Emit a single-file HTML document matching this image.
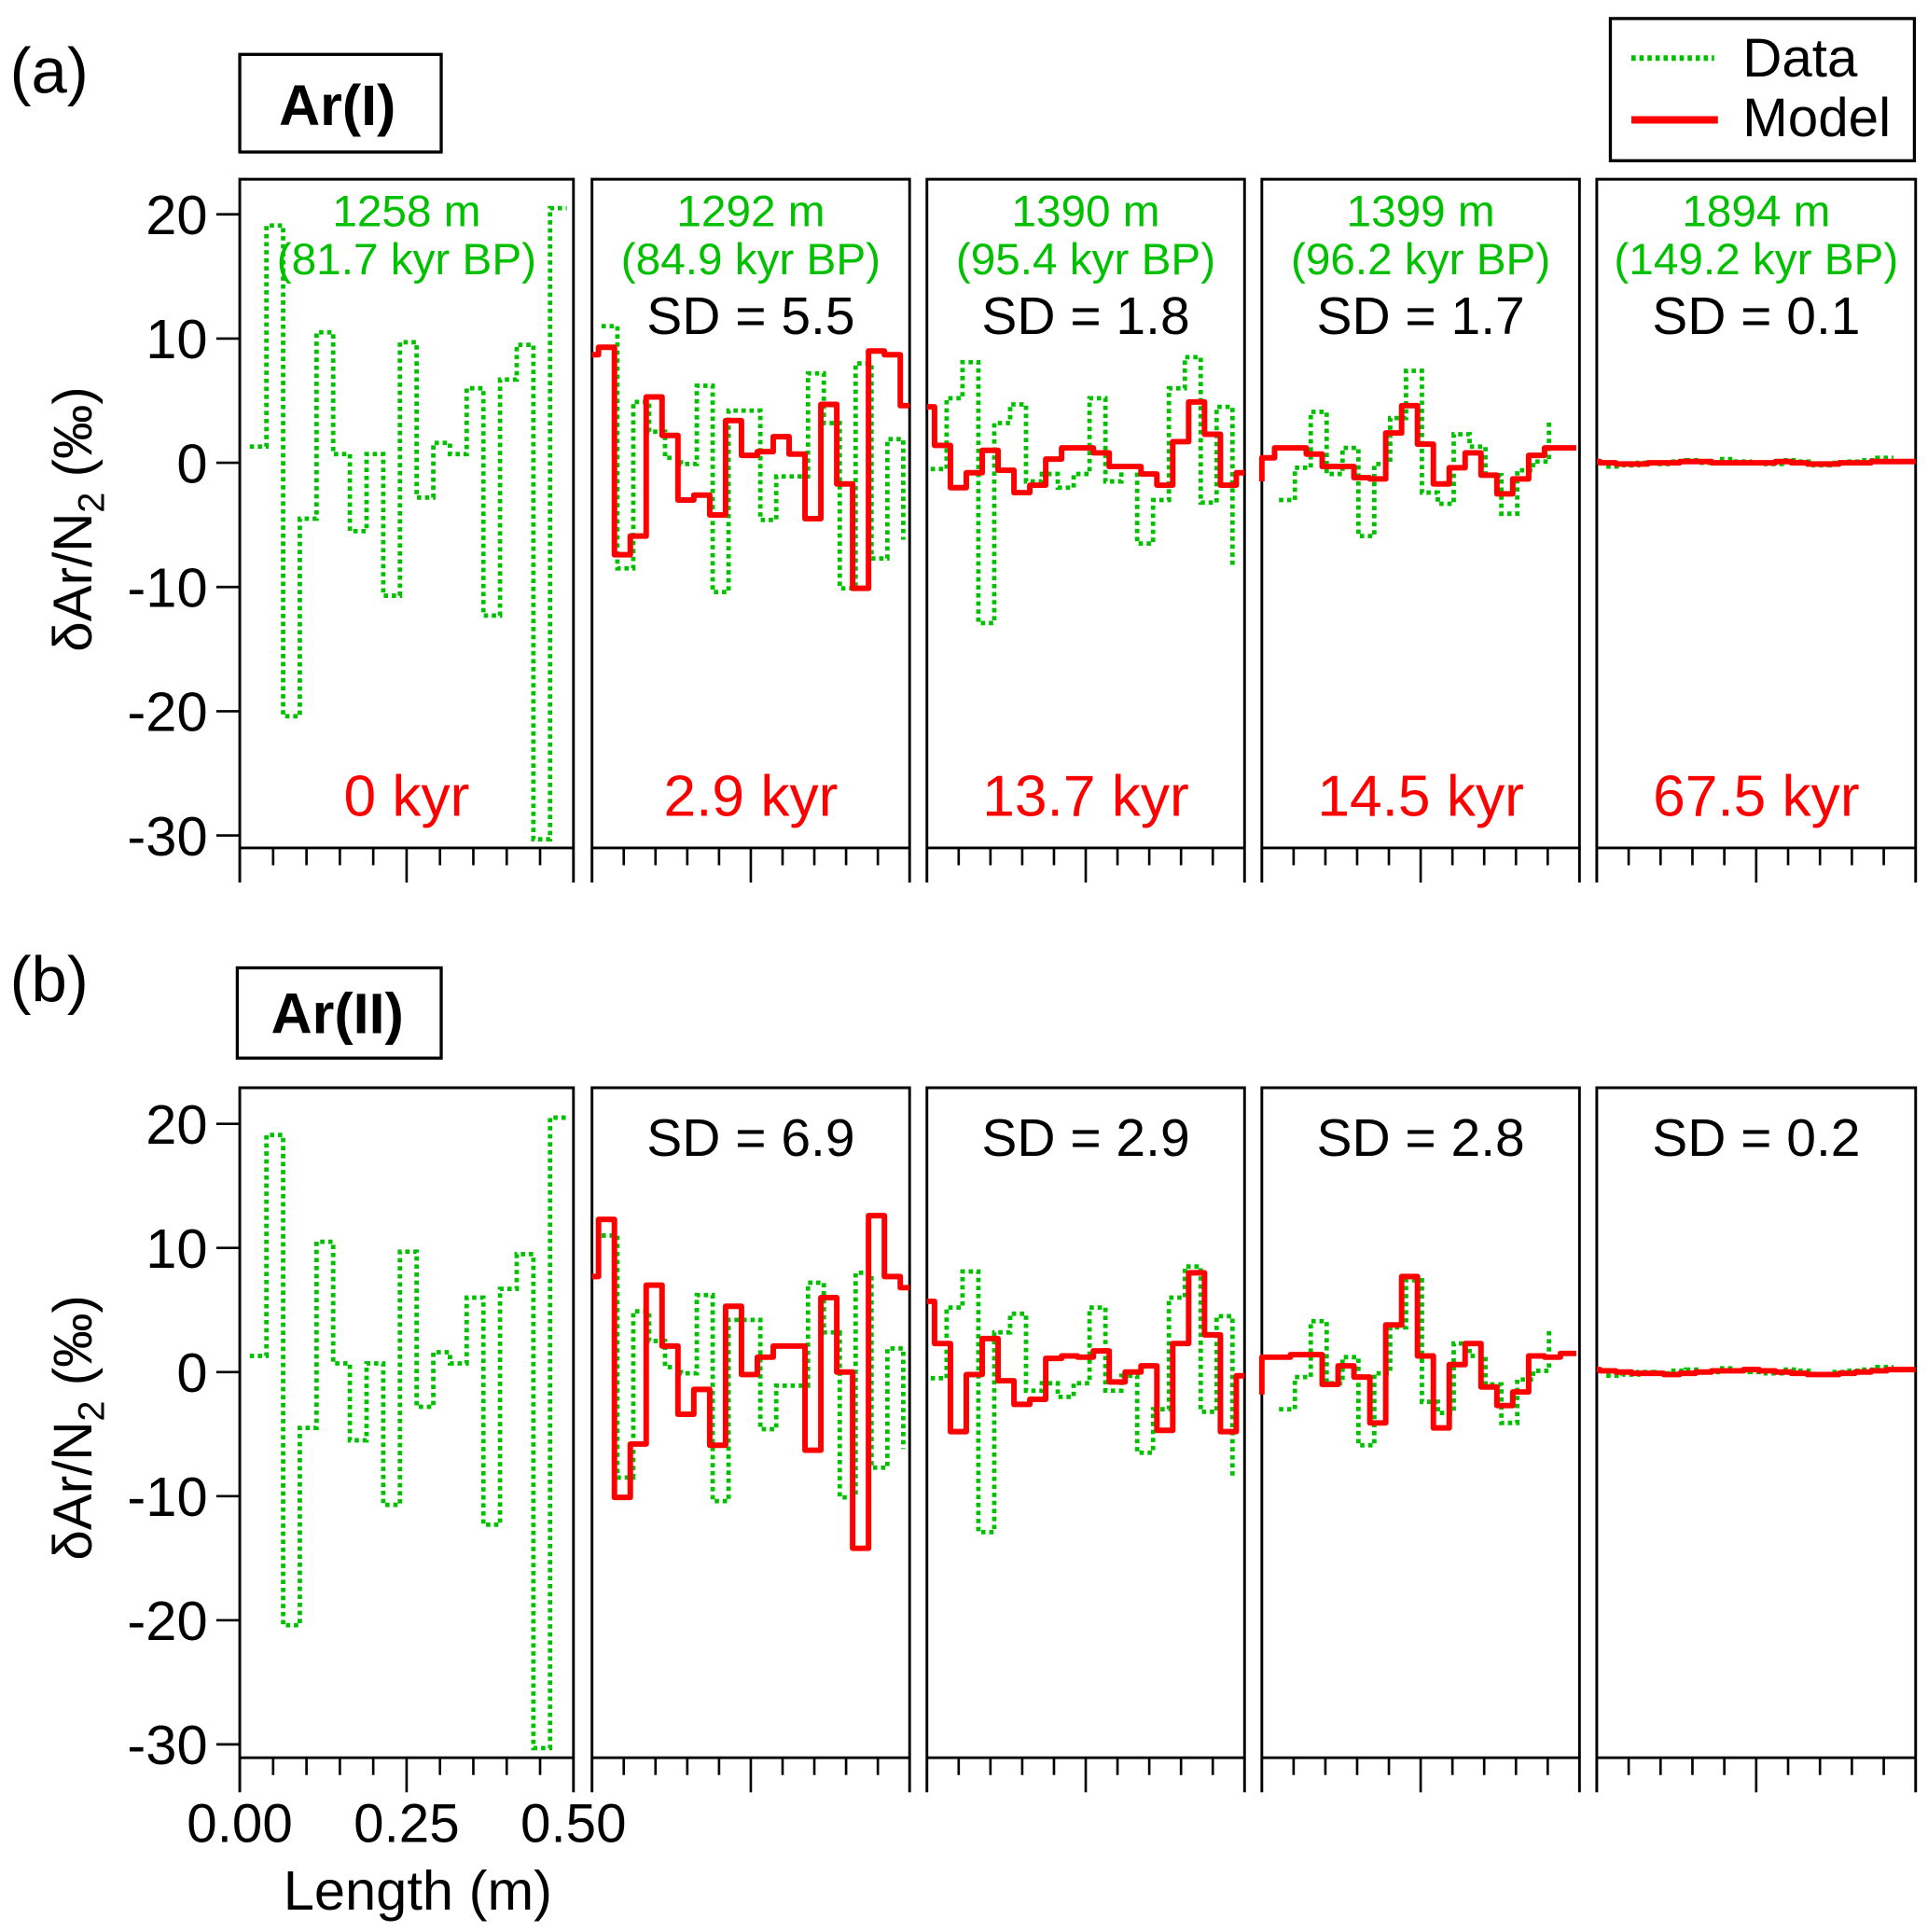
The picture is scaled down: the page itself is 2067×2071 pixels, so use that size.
<!DOCTYPE html>
<html><head><meta charset="utf-8"><style>
html,body{margin:0;padding:0;background:#fff;}
svg{display:block;font-family:"Liberation Sans",Arial,sans-serif;}
</style></head><body>
<svg id="chart" width="2067" height="2071" viewBox="0 0 1560 1563" preserveAspectRatio="none" xmlns="http://www.w3.org/2000/svg">
<g id="static">
  <text x="8" y="75" font-size="52">(a)</text>
  <text x="8" y="810" font-size="52">(b)</text>
  <rect x="194" y="44" width="163" height="79" fill="none" stroke="#000" stroke-width="2.5"/>
  <text x="273" y="101" font-size="46" font-weight="bold" text-anchor="middle">Ar(I)</text>
  <rect x="192" y="783" width="165" height="73" fill="none" stroke="#000" stroke-width="2.5"/>
  <text x="273" y="836" font-size="46" font-weight="bold" text-anchor="middle">Ar(II)</text>
  <g>
    <rect x="1303" y="15" width="246" height="115" fill="none" stroke="#000" stroke-width="2.5"/>
    <line x1="1320" y1="47" x2="1387" y2="47" stroke="#00c000" stroke-width="4.5" stroke-dasharray="3.5 3"/>
    <text x="1410" y="62" font-size="44">Data</text>
    <line x1="1320" y1="97" x2="1390" y2="97" stroke="#ff0000" stroke-width="6"/>
    <text x="1410" y="110" font-size="44">Model</text>
  </g>
  <text transform="translate(74,420) rotate(-90)" font-size="44" text-anchor="middle">δAr/N<tspan font-size="30" dy="10">2</tspan><tspan dy="-10"> (‰)</tspan></text>
  <text transform="translate(74,1155) rotate(-90)" font-size="44" text-anchor="middle">δAr/N<tspan font-size="30" dy="10">2</tspan><tspan dy="-10"> (‰)</tspan></text>
  <text x="194" y="1490" font-size="44" text-anchor="middle">0.00</text>
  <text x="329" y="1490" font-size="44" text-anchor="middle">0.25</text>
  <text x="464" y="1490" font-size="44" text-anchor="middle">0.50</text>
  <text x="338" y="1545" font-size="45" text-anchor="middle">Length (m)</text>
</g>
<g id="plots"></g>
</svg>
<script>
// ---- data ----
const yTicks = [20, 10, 0, -10, -20, -30];
const depthLabels = ["1258 m", "1292 m", "1390 m", "1399 m", "1894 m"];
const ageLabels = ["(81.7 kyr BP)", "(84.9 kyr BP)", "(95.4 kyr BP)", "(96.2 kyr BP)", "(149.2 kyr BP)"];
const kyrLabels = ["0 kyr", "2.9 kyr", "13.7 kyr", "14.5 kyr", "67.5 kyr"];
const sdA = [null, "5.5", "1.8", "1.7", "0.1"];
const sdB = [null, "6.9", "2.9", "2.8", "0.2"];
const dataStart = [0.015, 0.015, 0.006, 0.027, 0.015];
const data1 = [1.3, 19.1, -20.4, -4.5, 10.5, 0.7, -5.5, 0.7, -10.7, 9.7, -2.8, 1.6, 0.7, 6.0, -12.3, 6.7, 9.5, -30.3, 20.5];
const data2 = [11.0, -8.5, 4.9, 2.5, 0.4, -0.1, 6.2, -10.4, 4.2, 4.2, -4.6, -1.1, -1.1, 7.2, 3.2, -10.1, 8.0, -7.7, 1.9];
const data3 = [-0.5, 5.2, 8.1, -12.9, 3.2, 4.7, -1.5, -0.9, -2.0, -0.9, 5.2, -1.5, -0.3, -6.5, -3.0, 6.0, 8.5, -3.2, 4.5];
const data4 = [-3.0, -0.4, 4.1, -0.9, 1.2, -5.9, -0.1, 3.6, 7.4, -2.4, -3.3, 2.3, 1.3, -1.0, -4.1, -0.6, 0.1];
const data5 = [-0.3, -0.2, 0.0, -0.1, 0.1, 0.2, 0.0, 0.3, 0.1, 0.0, -0.1, 0.2, 0.1, -0.2, 0.0, 0.1, 0.2, 0.4];
const dataTail = [null, -6.2, -8.4, 3.5, null];
const modelStart = [0, -0.0147, -0.013, -0.03, -0.02];
const modelA2 = [8.7, 9.3, -7.4, -5.9, 5.3, 2.2, -3.0, -2.6, -4.2, 3.4, 0.6, 0.9, 2.1, 0.7, -4.5, 4.7, -1.7, -10.1, 9.0, 8.7, 4.6];
const modelA3 = [4.5, 1.4, -2.0, -0.8, 1.0, -0.6, -2.4, -1.8, 0.3, 1.2, 1.2, 0.8, -0.3, -0.3, -0.9, -1.8, 1.7, 4.9, 2.3, -1.8, -0.8];
const modelA4 = [-1.5, 0.4, 1.2, 1.2, 0.7, -0.3, -0.3, -1.2, -1.3, 2.4, 4.6, 1.5, -1.7, -0.4, 0.8, -1.0, -2.5, -1.3, 0.6, 1.2, 1.2];
const modelA5 = [0.1, 0.0, -0.1, -0.1, 0.0, 0.0, 0.1, 0.1, 0.0, 0.0, 0.0, 0.0, 0.1, 0.0, -0.1, -0.1, 0.0, 0.0, 0.1, 0.1, 0.1];
const modelB2 = [7.7, 12.3, -10.1, -5.8, 7.0, 2.1, -3.4, -1.4, -5.9, 5.3, -0.2, 1.2, 2.1, 2.1, -6.3, 6.0, 0.0, -14.2, 12.6, 7.7, 6.8];
const modelB3 = [5.7, 2.3, -4.8, -0.2, 2.7, -0.7, -2.6, -2.2, 1.1, 1.3, 1.2, 1.7, -0.8, 0.0, 0.5, -4.7, 2.3, 8.0, 3.0, -4.8, -0.3];
const modelB4 = [-1.8, 1.2, 1.2, 1.4, 1.4, -1.0, 0.5, -0.4, -4.1, 3.8, 7.7, 1.3, -4.5, 0.6, 2.3, -1.2, -2.7, -1.6, 1.3, 1.2, 1.5];
const modelB5 = [0.2, 0.1, 0.0, -0.1, -0.1, -0.2, -0.1, 0.0, 0.1, 0.1, 0.2, 0.1, 0.0, -0.1, -0.2, -0.2, -0.1, 0.0, 0.1, 0.2, 0.2];
const stepWidth = 0.025;

// ---- layout ----
const NS = "http://www.w3.org/2000/svg";
const panelsX = [[194, 464], [479, 736], [750, 1007], [1021, 1278], [1292, 1550]];
const rows = [
  {top: 145, y0: 374.4, k: 10.05, axis: 686, models: [null, modelA2, modelA3, modelA4, modelA5], sd: sdA, labels: true, tag: "a"},
  {top: 880, y0: 1110, k: 10.04, axis: 1422, models: [null, modelB2, modelB3, modelB4, modelB5], sd: sdB, labels: false, tag: "b"}
];
const datas = [data1, data2, data3, data4, data5];
const root = document.getElementById("plots");
function mk(tag, attrs, parent) {
  const e = document.createElementNS(NS, tag);
  for (const k in attrs) e.setAttribute(k, attrs[k]);
  (parent || root).appendChild(e);
  return e;
}
function clip(v) { return Math.max(0, Math.min(0.5, v)); }

rows.forEach(row => {
  const yS = v => row.y0 - v * row.k;
  panelsX.forEach((px, p) => {
    const xS = m => px[0] + (m / 0.5) * (px[1] - px[0]);
    const g = mk("g", {});
    
    
    const fr = mk("path", {d: `M${px[0]},${row.axis + 28} V${row.top} H${px[1]} V${row.axis + 28} M${px[0]},${row.axis} H${px[1]}`, fill: "none", stroke: "#000", "stroke-width": 2.2}, g);
    
    
    for (let i = 1; i < 10; i++) {
      const t = mk("line", {x1: xS(i * 0.05), x2: xS(i * 0.05), y1: row.axis, y2: row.axis + (i === 5 ? 28 : 14), stroke: "#000", "stroke-width": 2}, g);
      
      
    }
    if (p === 0) {
      yTicks.forEach(v => {
        const t = mk("line", {x1: px[0] - 19, x2: px[0], y1: yS(v), y2: yS(v), stroke: "#000", "stroke-width": 2}, g);
        
        
        const tl = mk("text", {x: px[0] - 26, y: yS(v) + 16, "font-size": 45, "text-anchor": "end"}, g);
        
        
        tl.textContent = v;
      });
    }
    const cx = (px[0] + px[1]) / 2;
    const dv = datas[p], s0 = dataStart[p];
    let d = `M${xS(s0)},${yS(dv[0])}`;
    dv.forEach((v, i) => {
      if (i > 0) d += ` V${yS(v)}`;
      d += ` H${xS(s0 + (i + 1) * stepWidth)}`;
    });
    if (dataTail[p] !== null) d += ` V${yS(dataTail[p])}`;
    const dl = mk("path", {d: d, fill: "none", stroke: "#00c000", "stroke-width": 3.6, "stroke-dasharray": "3.5 3"}, g);
    
    
    const mv = row.models[p];
    if (mv) {
      const ms = modelStart[p];
      let md = "";
      mv.forEach((v, i) => {
        const a = clip(ms + i * stepWidth), b = clip(ms + (i + 1) * stepWidth);
        md += (i === 0 ? `M${xS(a)},${yS(v)}` : ` V${yS(v)}`) + ` H${xS(b)}`;
      });
      const ml = mk("path", {d: md, fill: "none", stroke: "#ff0000", "stroke-width": 4.5, "stroke-linejoin": "round"}, g);
      
      
    }
    if (row.labels) {
      const t1 = mk("text", {x: cx, y: 183, "font-size": 36, fill: "#00c000", "text-anchor": "middle"}, g);
      
      
      t1.textContent = depthLabels[p];
      const t2 = mk("text", {x: cx, y: 222, "font-size": 36, fill: "#00c000", "text-anchor": "middle"}, g);
      
      
      t2.textContent = ageLabels[p];
      const t3 = mk("text", {x: cx, y: 660, "font-size": 47, fill: "#ff0000", "text-anchor": "middle"}, g);
      
      
      t3.textContent = kyrLabels[p];
    }
    if (row.sd[p] !== null) {
      const t4 = mk("text", {x: cx, y: row.labels ? 270 : 935, "font-size": 43, "text-anchor": "middle"}, g);
      
      
      t4.textContent = "SD = " + row.sd[p];
    }
  });
});
</script>
</body></html>
